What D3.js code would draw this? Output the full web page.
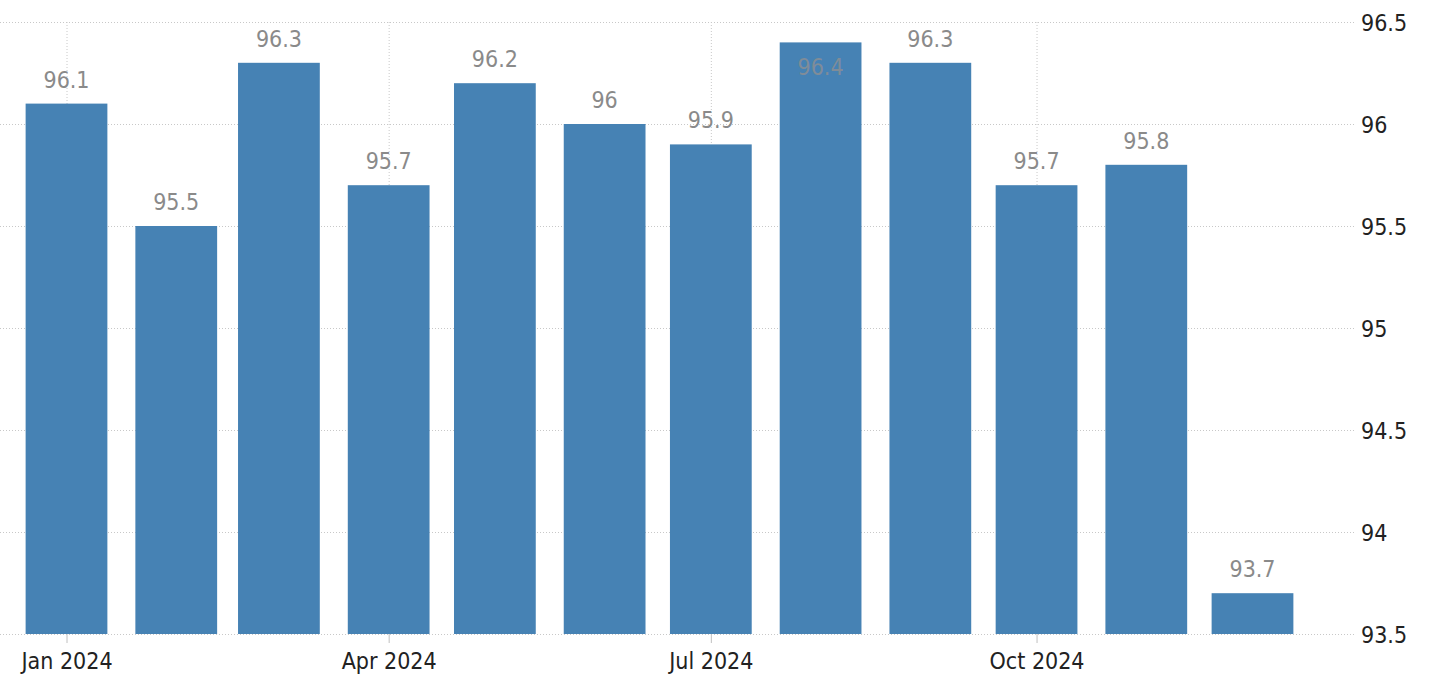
<!DOCTYPE html>
<html>
<head>
<meta charset="utf-8">
<script src="https://cdn.jsdelivr.net/npm/d3@7"></script>
<style>
  html, body { margin: 0; padding: 0; background: #ffffff; }
  svg { display: block; }
  text { font-family: "DejaVu Sans Condensed", "DejaVu Sans", sans-serif; font-stretch: condensed; }
</style>
</head>
<body>
<svg id="chart" width="1433" height="688"></svg>
<script>
// ---- data ----
const months = ["2024-01-01","2024-02-01","2024-03-01","2024-04-01","2024-05-01","2024-06-01",
                "2024-07-01","2024-08-01","2024-09-01","2024-10-01","2024-11-01","2024-12-01"];
const values = [96.1, 95.5, 96.3, 95.7, 96.2, 96, 95.9, 96.4, 96.3, 95.7, 95.8, 93.7];
const yTicks = [93.5, 94, 94.5, 95, 95.5, 96, 96.5];
const yTickLabels = ["93.5", "94", "94.5", "95", "95.5", "96", "96.5"];
const xTickDates = ["2024-01-01", "2024-04-01", "2024-07-01", "2024-10-01"];
const xTickLabels = ["Jan 2024", "Apr 2024", "Jul 2024", "Oct 2024"];

// ---- layout ----
const parse = d3.utcParse("%Y-%m-%d");
const plotTop = 22, plotBottom = 634, gridRight = 1356, labelX = 1361;
const fontSize = 23;

const svg = d3.select("#chart");

const x = d3.scaleUtc()
  .domain([parse(months[0]), parse(months[months.length - 1])])
  .range([66.5, 1252.5]);
const y = d3.scaleLinear()
  .domain([93.5, 96.5])
  .range([plotBottom, plotTop]);

const barW = (x(parse(months[1])) - x(parse(months[0]))) * 0.745;

// horizontal gridlines
const hGrid = svg.append("g")
  .call(d3.axisRight(y).tickValues(yTicks).tickSize(gridRight).tickFormat(""));
hGrid.select(".domain").remove();
hGrid.selectAll(".tick line")
  .attr("stroke", "#c8c8c8").attr("stroke-width", 1).attr("stroke-dasharray", "1,2");

// vertical gridlines at quarters
const vGrid = svg.append("g").attr("transform", `translate(0,${plotTop})`)
  .call(d3.axisBottom(x).tickValues(xTickDates.map(parse)).tickSize(plotBottom - plotTop).tickFormat(""));
vGrid.select(".domain").remove();
vGrid.selectAll(".tick line")
  .attr("stroke", "#c8c8c8").attr("stroke-width", 1).attr("stroke-dasharray", "1,2");

// y axis labels (right)
const yAxis = svg.append("g").attr("transform", `translate(${labelX},0)`)
  .call(d3.axisRight(y).tickValues(yTicks).tickSize(0).tickPadding(0)
    .tickFormat((d, i) => yTickLabels[i]));
yAxis.select(".domain").remove();
yAxis.selectAll("text")
  .attr("fill", "#222").attr("font-size", fontSize)
  .style("font-family", "'DejaVu Sans Condensed','DejaVu Sans',sans-serif")
  .attr("text-anchor", "start").attr("dy", "0.36em");

// x axis
const xAxis = svg.append("g").attr("transform", `translate(0,${plotBottom})`)
  .call(d3.axisBottom(x).tickValues(xTickDates.map(parse)).tickSize(9).tickPadding(0)
    .tickFormat((d, i) => xTickLabels[i]));
xAxis.select(".domain").remove();
xAxis.selectAll(".tick line").attr("stroke", "#c0c0c0");
xAxis.selectAll("text")
  .attr("fill", "#222").attr("font-size", fontSize)
  .style("font-family", "'DejaVu Sans Condensed','DejaVu Sans',sans-serif")
  .attr("y", 35).attr("dy", 0);

// bars
const data = months.map((m, i) => ({ date: parse(m), value: values[i] }));
svg.append("g").selectAll("rect").data(data).join("rect")
  .attr("x", d => x(d.date) - barW / 2)
  .attr("y", d => y(d.value))
  .attr("width", barW)
  .attr("height", d => y(93.5) - y(d.value))
  .attr("fill", "#4682b4");

// value labels
svg.append("g").selectAll("text").data(data).join("text")
  .attr("x", d => x(d.date))
  .attr("y", d => {
    const top = y(d.value);
    const outside = top - 16;
    return (outside - 17 < plotTop) ? top + 33 : outside;
  })
  .attr("text-anchor", "middle")
  .attr("font-size", fontSize)
  .attr("fill", d => (y(d.value) - 33 < plotTop) ? "#7f8c99" : "#8a8a8a")
  .text(d => String(d.value));
</script>
</body>
</html>
